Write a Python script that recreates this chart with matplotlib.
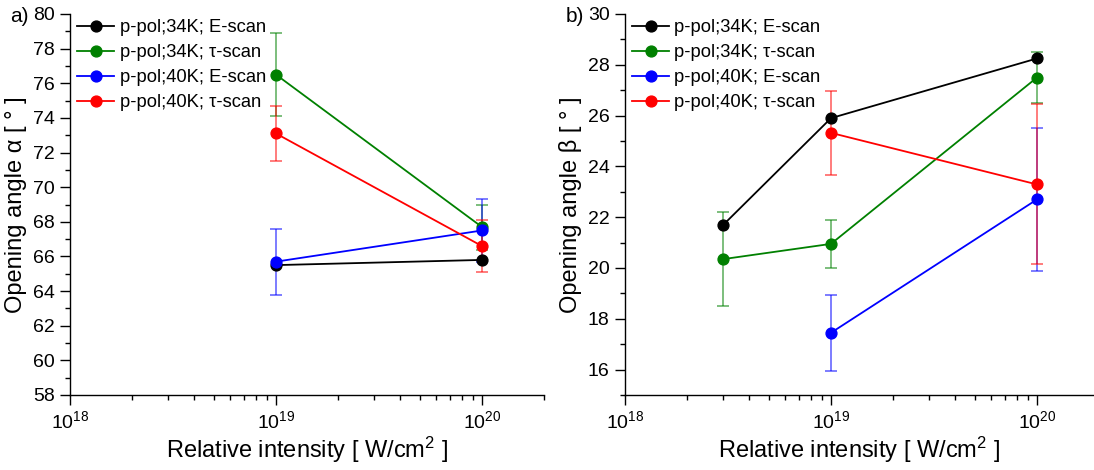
import matplotlib
matplotlib.use("Agg")
import matplotlib.pyplot as plt
from matplotlib.ticker import FixedLocator, LogLocator, LogFormatterSciNotation, NullFormatter
import numpy as np

plt.rcParams['font.family'] = ['Liberation Sans', 'DejaVu Sans']
plt.rcParams['mathtext.fontset'] = 'custom'
plt.rcParams['mathtext.rm'] = 'Liberation Sans'
plt.rcParams['mathtext.it'] = 'Liberation Sans:italic'
plt.rcParams['mathtext.default'] = 'regular'

labels = ["p-pol;34K; E-scan", "p-pol;34K; \u03c4-scan", "p-pol;40K; E-scan", "p-pol;40K; \u03c4-scan"]
colors = ["black", "green", "blue", "red"]

# Panel a: opening angle alpha
a_x = [[1e19, 1e20], [1e19, 1e20], [1e19, 1e20], [1e19, 1e20]]
a_y = [[65.5, 65.8], [76.5, 67.7], [65.7, 67.5], [73.1, 66.6]]
a_err = [None, [2.4, 1.3], [1.9, 1.8], [1.6, 1.5]]

# Panel b: opening angle beta
b_x = [[3e18, 1e19, 1e20], [3e18, 1e19, 1e20], [1e19, 1e20], [1e19, 1e20]]
b_y = [[21.7, 25.9, 28.25], [20.35, 20.95, 27.5], [17.45, 22.7], [25.32, 23.29]]
b_err = [None, [1.85, 0.95, 1.0], [1.5, 2.83], [1.66, 3.15]]

W, H = 1094, 470
fig = plt.figure(figsize=(W / 100, H / 100), dpi=100)

def px(l, r, t, b):
    return [l / W, 1 - b / H, (r - l) / W, (b - t) / H]

axA = fig.add_axes(px(70, 544, 14, 395))
axB = fig.add_axes(px(625, 1093, 14, 395))

def draw(ax, xs, ys, errs):
    for x, y, e, c, lab in zip(xs, ys, errs, colors, labels):
        ax.plot(x, y, '-o', color=c, lw=1.3, ms=7.8, label=lab, zorder=3)
        if e is not None:
            ax.errorbar(x, y, yerr=e, fmt='none', ecolor=c, elinewidth=1.2,
                        capsize=4, capthick=1.2, alpha=0.6, zorder=2)

draw(axA, a_x, a_y, a_err)
draw(axB, b_x, b_y, b_err)

for ax in (axA, axB):
    ax.set_xscale('log')
    for s in ('top', 'right'):
        ax.spines[s].set_visible(False)
    ax.spines['left'].set_linewidth(1.0)
    ax.spines['bottom'].set_linewidth(1.0)
    ax.xaxis.set_major_locator(FixedLocator([1e18, 1e19, 1e20]))
    ax.xaxis.set_major_formatter(LogFormatterSciNotation())
    ax.xaxis.set_minor_locator(LogLocator(base=10, subs=np.arange(2, 10), numticks=20))
    ax.xaxis.set_minor_formatter(NullFormatter())
    ax.tick_params(which='major', direction='out', length=7, width=1.0, labelsize=14, pad=4)
    ax.tick_params(which='minor', direction='out', length=3.5, width=1.0)
    ax.set_xlabel("Relative intensity [ W/cm$^2$ ]", fontsize=17, labelpad=2)
    ax.legend(loc='upper left', bbox_to_anchor=(0.0, 1.005), frameon=False, fontsize=13.2,
              handlelength=2.0, handletextpad=0.3, labelspacing=0.43, borderaxespad=0.0,
              borderpad=0.4, numpoints=1)

axA.set_xlim(1e18, 2e20)
axA.set_ylim(58, 80)
axA.yaxis.set_major_locator(FixedLocator(np.arange(58, 81, 2)))
axA.yaxis.set_minor_locator(FixedLocator(np.arange(59, 80, 2)))
axA.set_ylabel("Opening angle \u03b1 [ \u00b0 ]", fontsize=17, labelpad=4)

axB.set_xlim(1e18, 1.87e20)
axB.set_ylim(15, 30)
axB.yaxis.set_major_locator(FixedLocator(np.arange(16, 31, 2)))
axB.yaxis.set_minor_locator(FixedLocator(np.arange(15, 30, 2)))
axB.set_ylabel("Opening angle \u03b2 [ \u00b0 ]", fontsize=17, labelpad=4)

fig.text(10 / W, 1 - 17 / H, "a)", fontsize=15, va='center', ha='left')
fig.text(566 / W, 1 - 17 / H, "b)", fontsize=15, va='center', ha='left')

fig.savefig("out.png", dpi=100)
